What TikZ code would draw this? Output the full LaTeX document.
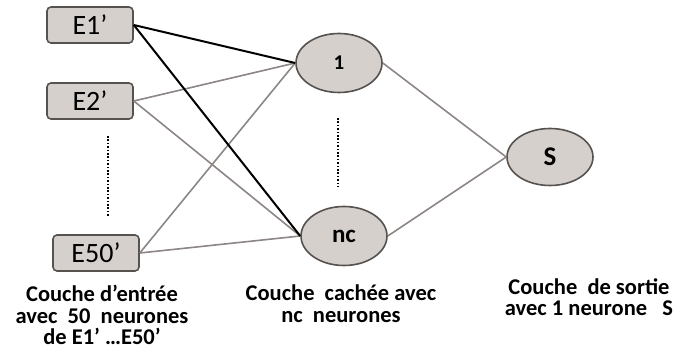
\documentclass[tikz,border=0pt]{standalone}
\usepackage{fontspec}
\setmainfont{Carlito}
\usetikzlibrary{shapes.geometric}
\definecolor{nodefill}{RGB}{214,208,205}
\definecolor{nodeline}{RGB}{85,82,80}
\definecolor{wire}{RGB}{140,134,132}
\tikzset{
  inbox/.style={draw=nodeline, line width=1.6pt, fill=nodefill, rounded corners=4pt,
    minimum width=86pt, minimum height=36pt, inner sep=0pt, font=\fontsize{28}{30}\selectfont},
  neuron/.style={ellipse, draw=nodeline, line width=1.6pt, fill=nodefill,
    minimum width=86pt, minimum height=59pt, inner sep=0pt},
  wire/.style={draw=wire, line width=1.6pt},
  strong/.style={draw=black, line width=2pt},
  ellipsis/.style={draw=black, line width=2.6pt, dash pattern=on 1.7pt off 1.7pt},
  caption/.style={align=center, font=\bfseries\fontsize{22.5}{21.5}\selectfont, inner sep=0pt}
}
\begin{document}
\begin{tikzpicture}[x=1pt, y=-1pt]
  \useasboundingbox (0,0) rectangle (678,352);
  % input layer
  \node[inbox] (e1) at (90,25) {E1’};
  \node[inbox] (e2) at (90,101) {E2’};
  \node[inbox] (e50) at (96,253) {E50’};
  \coordinate (din1) at (108,136);
  \coordinate (din2) at (108,217);
  % hidden layer
  \node[neuron, font=\bfseries\fontsize{21}{23}\selectfont] (h1) at (339,63) {1};
  \node[neuron, font=\bfseries\fontsize{25}{27}\selectfont] (hnc) at (344,236) {nc};
  \coordinate (dh1) at (338,118);
  \coordinate (dh2) at (338,187);
  % output layer
  \node[neuron, minimum height=57pt, font=\bfseries\fontsize{27}{29}\selectfont] (out) at (550,157) {S};
  % connections
  \draw[wire] (e2.east) -- (h1.west);
  \draw[wire] (e2.east) -- (hnc.west);
  \draw[wire] (e50.east) -- (h1.west);
  \draw[wire] (e50.east) -- (hnc.west);
  \draw[strong] (e1.east) -- (h1.west);
  \draw[strong] (e1.east) -- (hnc.west);
  \draw[wire] (h1.east) -- (out.west);
  \draw[wire] (hnc.east) -- (out.west);
  % vertical ellipses
  \draw[ellipsis] (din1) -- (din2);
  \draw[ellipsis] (dh1) -- (dh2);
  % layer captions
  \node[caption, anchor=north] (capin) at (102,285) {Couche d’entrée\\avec\ \ 50\ \ neurones\\de E1’ \ldots E50’};
  \node[caption, anchor=north] (caphid) at (341,285) {Couche\ \ cachée avec\\nc\ \ neurones};
  \node[caption, anchor=north] (capout) at (589,278) {Couche\ \ de sortie\\avec 1 neurone\ \ \ S};
\end{tikzpicture}
\end{document}
